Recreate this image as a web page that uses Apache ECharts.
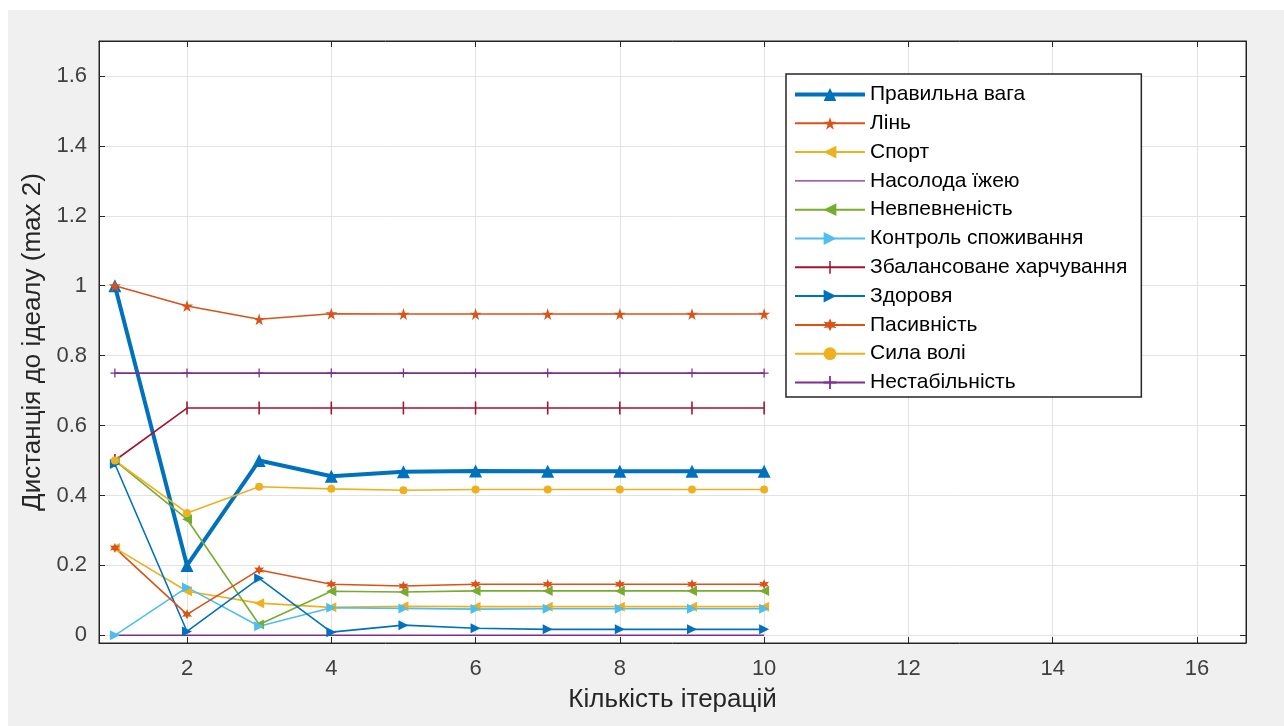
<!DOCTYPE html>
<html>
<head>
<meta charset="utf-8">
<script src="https://cdn.jsdelivr.net/npm/echarts@6/dist/echarts.min.js"></script>
<style>
  html, body { margin: 0; padding: 0; background: #fff; }
  #wrap { position: absolute; left: 8px; top: 10px; width: 1276px; height: 716px; background: #f0f0f0; }
  #chart { position: absolute; left: -8px; top: -10px; width: 1284px; height: 726px; }
</style>
</head>
<body>
<div id="wrap"><div id="chart"></div></div>
<script>
const iterations = [1, 2, 3, 4, 5, 6, 7, 8, 9, 10]

const pravylnaVaga = [1.0, 0.2, 0.5, 0.455, 0.468, 0.47, 0.469, 0.469, 0.469, 0.469]
const lin = [1.0, 0.942, 0.904, 0.92, 0.919, 0.919, 0.919, 0.919, 0.919, 0.919]
const sport = [0.25, 0.126, 0.092, 0.08, 0.083, 0.082, 0.082, 0.082, 0.082, 0.082]
const nasoloda = [0, 0, 0, 0, 0, 0, 0, 0, 0, 0]
const nevpevnenist = [0.5, 0.332, 0.031, 0.126, 0.124, 0.127, 0.127, 0.127, 0.127, 0.127]
const kontrol = [0.0, 0.137, 0.026, 0.079, 0.077, 0.075, 0.076, 0.076, 0.076, 0.076]
const zbalansovane = [0.5, 0.65, 0.65, 0.65, 0.65, 0.65, 0.65, 0.65, 0.65, 0.65]
const zdorovya = [0.49, 0.011, 0.163, 0.009, 0.029, 0.02, 0.017, 0.017, 0.017, 0.017]
const pasyvnist = [0.25, 0.06, 0.187, 0.146, 0.141, 0.146, 0.146, 0.146, 0.146, 0.146]
const sylaVoli = [0.5, 0.35, 0.425, 0.419, 0.415, 0.417, 0.417, 0.417, 0.417, 0.417]
const nestabilnist = [0.75, 0.75, 0.75, 0.75, 0.75, 0.75, 0.75, 0.75, 0.75, 0.75]

// marker shapes (MATLAB-like)
const STAR = 'path://M50,0L61,35L98,35L68,57L79,91L50,70L21,91L32,57L2,35L39,35Z'
const HEXSTAR = 'path://M50,0L62,29L93,25L74,50L93,75L62,71L50,100L38,71L7,75L26,50L7,25L38,29Z'
const LEFT_TRI = 'path://M0,5L10,0L10,10Z'
const RIGHT_TRI = 'path://M10,5L0,0L0,10Z'
const VBAR = 'path://M0,0L0.01,0L0.01,0.01Z M4.4,0L5.6,0L5.6,10L4.4,10Z M10,10L9.99,10L9.99,9.99Z'
const PLUS = 'path://M4.3,0L5.7,0L5.7,4.3L10,4.3L10,5.7L5.7,5.7L5.7,10L4.3,10L4.3,5.7L0,5.7L0,4.3L4.3,4.3Z'
const PLAIN_LINE = 'path://M0,0L0.01,0L0.01,0.01Z M0,7.4L70,7.4L70,8.6L0,8.6Z M70,16L69.99,16L69.99,15.99Z'

function pairs(values) {
  return iterations.map((x, i) => [x, values[i]])
}

function line(name, values, color, symbol, size, width) {
  return {
    name: name,
    type: 'line',
    data: pairs(values),
    symbol: symbol,
    symbolSize: size,
    showSymbol: symbol !== 'none',
    lineStyle: { color: color, width: width || 1.6 },
    itemStyle: { color: color },
    emphasis: { disabled: true },
    animation: false,
  }
}

const font = '"Liberation Sans", Arial, sans-serif'
const axisColor = '#262626'

const chart = echarts.init(document.getElementById('chart'))
chart.setOption({
  backgroundColor: 'transparent',
  grid: {
    left: 99, top: 41, right: 38, bottom: 83,
    show: true, backgroundColor: '#fff', borderColor: axisColor, borderWidth: 1,
  },
  legend: {
    orient: 'vertical',
    left: 786, top: 74,
    padding: [10, 14, 4, 7],
    itemWidth: 70, itemHeight: 16,
    itemGap: 7.8,
    backgroundColor: '#fff',
    borderColor: axisColor, borderWidth: 1.5,
    textStyle: { fontFamily: font, fontSize: 21, color: '#000' },
    data: [
      { name: 'Правильна вага', lineStyle: { width: 4 } },
      'Лінь', 'Спорт',
      { name: 'Насолода їжею', icon: PLAIN_LINE },
      'Невпевненість', 'Контроль споживання', 'Збалансоване харчування',
      'Здоровя', 'Пасивність', 'Сила волі', 'Нестабільність',
    ],
  },
  xAxis: [{
    type: 'value',
    min: 0.78, max: 16.68, splitNumber: 8,
    name: 'Кількість ітерацій',
    nameLocation: 'middle', nameGap: 44,
    nameTextStyle: { fontFamily: font, fontSize: 26, color: axisColor },
    axisLine: { onZero: false, lineStyle: { color: axisColor } },
    axisTick: { inside: true, length: 6, lineStyle: { color: axisColor } },
    axisLabel: { showMinLabel: false, showMaxLabel: false, margin: 15, fontFamily: font, fontSize: 22, color: '#404040' },
    splitLine: { lineStyle: { color: '#e3e3e3' } },
  }, {
    type: 'value', position: 'top',
    min: 0.78, max: 16.68, splitNumber: 8,
    axisLine: { onZero: false, lineStyle: { color: axisColor } },
    axisTick: { inside: true, length: 6, lineStyle: { color: axisColor } },
    axisLabel: { show: false },
    splitLine: { show: false },
  }],
  yAxis: [{
    type: 'value',
    min: -0.022, max: 1.7, splitNumber: 8,
    name: 'Дистанція до ідеалу (max 2)',
    nameLocation: 'middle', nameGap: 52,
    nameTextStyle: { fontFamily: font, fontSize: 26, color: axisColor },
    axisLine: { show: true, onZero: false, lineStyle: { color: axisColor } },
    axisTick: { show: true, inside: true, length: 6, lineStyle: { color: axisColor } },
    axisLabel: { showMinLabel: false, showMaxLabel: false, margin: 12, fontFamily: font, fontSize: 22, color: '#404040' },
    splitLine: { lineStyle: { color: '#e3e3e3' } },
  }, {
    type: 'value', position: 'right',
    min: -0.022, max: 1.7, splitNumber: 8,
    axisLine: { show: true, onZero: false, lineStyle: { color: axisColor } },
    axisTick: { show: true, inside: true, length: 6, lineStyle: { color: axisColor } },
    axisLabel: { show: false },
    splitLine: { show: false },
  }],
  series: [
    line('Правильна вага', pravylnaVaga, '#0072BD', 'triangle', 13, 4),
    line('Лінь', lin, '#D95319', STAR, 12),
    line('Спорт', sport, '#EDB120', LEFT_TRI, 10),
    line('Насолода їжею', nasoloda, '#7E2F8E', 'none', 0),
    line('Невпевненість', nevpevnenist, '#77AC30', LEFT_TRI, 10),
    line('Контроль споживання', kontrol, '#4DBEEE', RIGHT_TRI, 10),
    line('Збалансоване харчування', zbalansovane, '#A2142F', VBAR, 13),
    line('Здоровя', zdorovya, '#0072BD', RIGHT_TRI, 10),
    line('Пасивність', pasyvnist, '#D95319', HEXSTAR, 10),
    line('Сила волі', sylaVoli, '#EDB120', 'circle', 8),
    line('Нестабільність', nestabilnist, '#7E2F8E', PLUS, 9),
  ],
})
</script>
</body>
</html>
